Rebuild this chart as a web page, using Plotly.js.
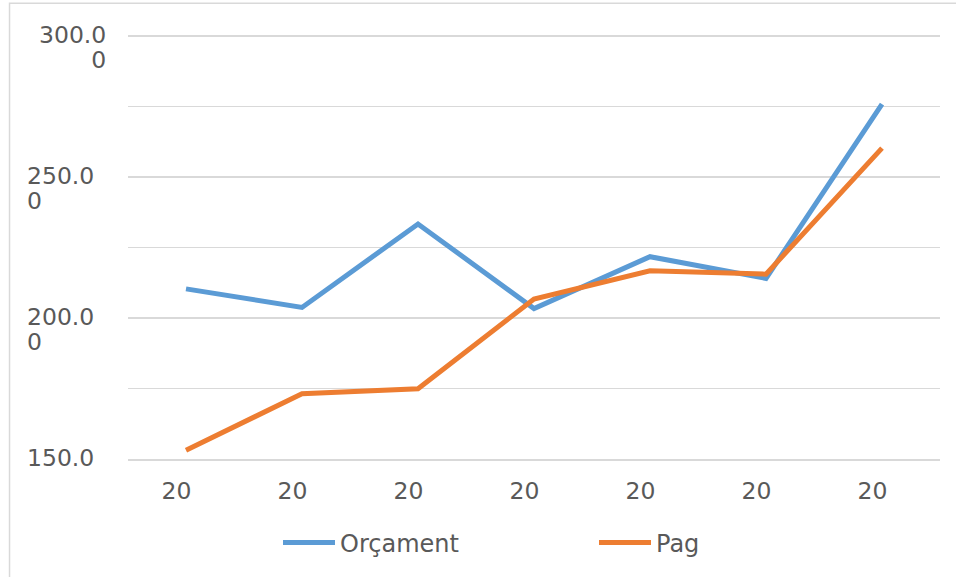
<!DOCTYPE html>
<html>
<head>
<meta charset="utf-8">
<script src="https://cdn.plot.ly/plotly-3.0.1.min.js"></script>
<style>html,body{margin:0;padding:0;background:#fff;}#chart{width:956px;height:577px;}</style>
</head>
<body>
<div id="chart"></div>
<script>
// Data
var xLabels = ["20", "20", "20", "20", "20", "20", "20"];
var orcament = [210.3, 203.7, 233.3, 203.3, 221.7, 214.0, 275.8];
var pag = [153.1, 173.1, 174.9, 206.7, 216.7, 215.5, 260.2];
var seriesNames = ["Orçament", "Pag"];
var yTickVals = [150, 200, 250, 300];
var yTickLine1 = ["150.0", "200.0", "250.0", "300.0"];
var yTickLine2 = ["", "0", "0", "0"];

var xIdx = xLabels.map(function (_, i) { return i; });
var xTickPos = xIdx.map(function (i) { return i - 0.082; });
var txtColor = "#595959";
var fontFam = "DejaVu Sans, Verdana, sans-serif";

var traces = [
  { x: xIdx, y: orcament, name: seriesNames[0], type: "scatter", mode: "lines",
    line: { color: "#5B9BD5", width: 5 } },
  { x: xIdx, y: pag, name: seriesNames[1], type: "scatter", mode: "lines",
    line: { color: "#ED7D31", width: 5 } }
];

var annotations = [];
yTickVals.forEach(function (v, i) {
  var wide = (v === 300);
  var two = !!yTickLine2[i];
  var txt = '<span style="font-size:23.5px">' + yTickLine1[i] +
    (two ? '<br>' + yTickLine2[i] : '') + '</span>';
  annotations.push({ xref: "paper", yref: "y", x: 0, y: v, text: txt,
    showarrow: false, xanchor: "right", yanchor: "middle",
    align: wide ? "right" : "left",
    xshift: wide ? -20 : -32, yshift: two ? -11.5 : 1,
    font: { family: fontFam, size: 19.5, color: txtColor } });
});

var layout = {
  width: 956, height: 577,
  margin: { l: 128, r: 16, t: 32.67, b: 117.5, pad: 0, autoexpand: false },
  paper_bgcolor: "#fff", plot_bgcolor: "#fff",
  font: { family: fontFam, size: 23, color: txtColor },
  showlegend: true,
  legend: { orientation: "h", xref: "container", yref: "container",
    x: 278 / 956, xanchor: "left", y: 1 - 543 / 577, yanchor: "middle",
    entrywidth: 249, entrywidthmode: "pixels", itemwidth: 52,
    font: { family: fontFam, size: 24, color: txtColor } },
  xaxis: { range: [-0.5, 6.5], tickvals: xTickPos, ticktext: xLabels, showgrid: false,
    zeroline: false, showline: true, linecolor: "#D9D9D9", linewidth: 1.5,
    ticks: "", ticklabelstandoff: 10,
    tickfont: { family: fontFam, size: 23.5, color: txtColor }, fixedrange: true },
  yaxis: { range: [149.98, 301], tick0: 150, dtick: 25, showticklabels: false,
    showgrid: true, gridcolor: "#D9D9D9", gridwidth: 1.5, zeroline: false,
    showline: false, ticks: "", fixedrange: true },
  shapes: [
    { type: "rect", xref: "paper", yref: "paper", x0: -0.1459, x1: 1.2, y0: -0.6, y1: 1.07,
      line: { color: "#D9D9D9", width: 1.5 }, fillcolor: "rgba(0,0,0,0)", layer: "below" }
  ],
  annotations: annotations
};

Plotly.newPlot("chart", traces, layout, { displayModeBar: false, staticPlot: true });
</script>
</body>
</html>
